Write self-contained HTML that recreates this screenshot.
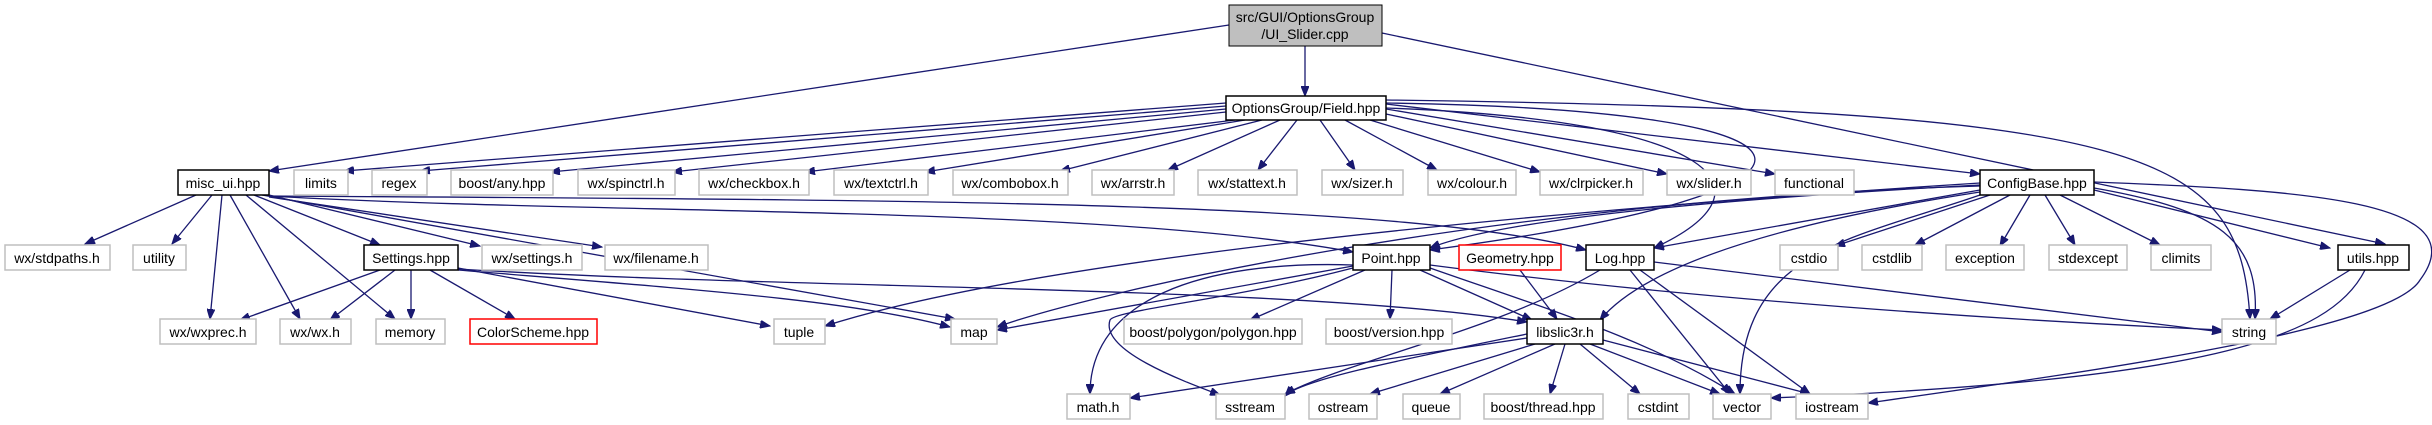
<!DOCTYPE html>
<html><head><meta charset="utf-8"><style>
html,body{margin:0;padding:0;background:#fff;width:2432px;height:425px;overflow:hidden}
svg text{font-family:"Liberation Sans",Arial,sans-serif;font-size:14px;text-anchor:middle;fill:#000}
.g{fill:#fff;stroke:#bfbfbf;stroke-width:1.5}
.b{fill:#fff;stroke:#000;stroke-width:1.5}
.r{fill:#fff;stroke:#ff0000;stroke-width:1.5}
path{fill:none;stroke:#191970;stroke-width:1.3;marker-end:url(#a)}
</style></head><body>
<svg width="2432" height="425" viewBox="0 0 2432 425" xmlns="http://www.w3.org/2000/svg">
<defs><marker id="a" markerUnits="userSpaceOnUse" markerWidth="11" markerHeight="8" refX="10" refY="4" orient="auto"><polygon points="0,0 10,4 0,8" fill="#191970" stroke="#191970"/></marker></defs>
<g>
<path d="M1305,46 L1305,96"/>
<path d="M1229,25 L269,171"/>
<path d="M1382,33 L2385,244"/>
<path d="M1226,103 L344,171"/>
<path d="M1226,106 L420,171"/>
<path d="M1226,109 L550,172"/>
<path d="M1226,112 L672,172"/>
<path d="M1235,120 L805,172"/>
<path d="M1245,120 L925,172"/>
<path d="M1262,120 L1060,171"/>
<path d="M1280,120 L1168,170"/>
<path d="M1297,120 L1258,170"/>
<path d="M1320,120 L1355,170"/>
<path d="M1345,120 L1437,170"/>
<path d="M1370,120 L1540,172"/>
<path d="M1386,114 L1667,174"/>
<path d="M1386,109 L1775,174"/>
<path d="M1386,104 L1980,174"/>
<path d="M1386,100 C2150,110 2240,150 2250,319"/>
<path d="M1386,103 C1860,110 1880,190 1430,250"/>
<path d="M1386,108 C1720,120 1780,190 1654,248"/>
<path d="M196,195 L85,244"/>
<path d="M212,195 L172,244"/>
<path d="M222,195 L210,319"/>
<path d="M230,195 L300,319"/>
<path d="M246,195 L395,319"/>
<path d="M254,195 L380,245"/>
<path d="M269,195 L480,246"/>
<path d="M269,197 L602,247"/>
<path d="M262,195 L955,319"/>
<path d="M269,196 C600,215 1100,205 1353,252"/>
<path d="M269,196 C900,200 1400,200 1586,250"/>
<path d="M380,270 L240,320"/>
<path d="M395,270 L330,320"/>
<path d="M411,270 L411,319"/>
<path d="M430,270 L515,319"/>
<path d="M458,268 L770,326"/>
<path d="M458,270 C700,290 850,300 950,327"/>
<path d="M458,269 C800,290 1300,285 1527,322"/>
<path d="M1990,195 L1835,246"/>
<path d="M2010,195 L1915,245"/>
<path d="M2030,195 L2000,246"/>
<path d="M2045,195 L2075,245"/>
<path d="M2060,195 L2160,245"/>
<path d="M2094,190 L2330,248"/>
<path d="M2094,188 C2220,210 2260,240 2255,319"/>
<path d="M2094,182 C2300,190 2480,200 2420,280 C2390,330 2100,370 1868,403"/>
<path d="M1980,195 C1850,240 1740,250 1740,394"/>
<path d="M1980,185 C1700,200 1500,220 1430,248"/>
<path d="M1980,190 L1654,248"/>
<path d="M1980,192 C1800,220 1650,260 1600,320"/>
<path d="M1980,183 C1400,220 1000,270 825,326"/>
<path d="M1980,186 C1500,200 1100,290 997,327"/>
<path d="M1353,265 C1200,260 1090,300 1090,394"/>
<path d="M1353,268 C1230,300 1115,310 1110,320 C1100,350 1180,380 1220,395"/>
<path d="M1353,266 L997,330"/>
<path d="M1365,270 L1250,320"/>
<path d="M1392,270 L1390,319"/>
<path d="M1420,270 L1532,320"/>
<path d="M1430,268 C1550,310 1650,340 1735,394"/>
<path d="M1430,265 C1700,300 2000,320 2222,330"/>
<path d="M1520,270 L1557,319"/>
<path d="M1654,262 L2222,332"/>
<path d="M1630,270 L1730,394"/>
<path d="M1640,270 L1810,394"/>
<path d="M1600,270 C1500,330 1350,360 1285,394"/>
<path d="M1527,338 L1130,398"/>
<path d="M1527,334 C1400,360 1300,380 1285,396"/>
<path d="M1535,344 L1370,394"/>
<path d="M1555,344 L1440,394"/>
<path d="M1565,344 L1550,394"/>
<path d="M1580,344 L1640,394"/>
<path d="M1590,344 L1720,394"/>
<path d="M1603,340 L1810,394"/>
<path d="M2350,270 L2270,319"/>
<path d="M2365,270 C2330,340 2200,380 1771,398"/>
</g>
<rect x="1229" y="5" width="153" height="41" fill="#bfbfbf" stroke="#000" stroke-width="1"/>
<text x="1305" y="22">src/GUI/OptionsGroup</text><text x="1305" y="39">/UI_Slider.cpp</text>
<rect class="b" x="1226" y="96" width="160" height="24"/><text x="1306" y="113">OptionsGroup/Field.hpp</text>
<g>
<rect class="b" x="178" y="170" width="91" height="25"/><text x="223" y="188">misc_ui.hpp</text>
<rect class="g" x="294" y="170" width="54" height="25"/><text x="321" y="188">limits</text>
<rect class="g" x="372" y="170" width="55" height="25"/><text x="399" y="188">regex</text>
<rect class="g" x="451" y="170" width="102" height="25"/><text x="502" y="188">boost/any.hpp</text>
<rect class="g" x="578" y="170" width="97" height="25"/><text x="626" y="188">wx/spinctrl.h</text>
<rect class="g" x="699" y="170" width="110" height="25"/><text x="754" y="188">wx/checkbox.h</text>
<rect class="g" x="834" y="170" width="94" height="25"/><text x="881" y="188">wx/textctrl.h</text>
<rect class="g" x="953" y="170" width="115" height="25"/><text x="1010" y="188">wx/combobox.h</text>
<rect class="g" x="1092" y="170" width="82" height="25"/><text x="1133" y="188">wx/arrstr.h</text>
<rect class="g" x="1198" y="170" width="99" height="25"/><text x="1247" y="188">wx/stattext.h</text>
<rect class="g" x="1322" y="170" width="81" height="25"/><text x="1362" y="188">wx/sizer.h</text>
<rect class="g" x="1428" y="170" width="88" height="25"/><text x="1472" y="188">wx/colour.h</text>
<rect class="g" x="1540" y="170" width="103" height="25"/><text x="1591" y="188">wx/clrpicker.h</text>
<rect class="g" x="1667" y="170" width="84" height="25"/><text x="1709" y="188">wx/slider.h</text>
<rect class="g" x="1775" y="170" width="79" height="25"/><text x="1814" y="188">functional</text>
<rect class="b" x="1980" y="170" width="114" height="25"/><text x="2037" y="188">ConfigBase.hpp</text>
</g>
<g>
<rect class="g" x="5" y="245" width="105" height="25"/><text x="57" y="263">wx/stdpaths.h</text>
<rect class="g" x="133" y="245" width="53" height="25"/><text x="159" y="263">utility</text>
<rect class="b" x="364" y="245" width="94" height="25"/><text x="411" y="263">Settings.hpp</text>
<rect class="g" x="482" y="245" width="100" height="25"/><text x="532" y="263">wx/settings.h</text>
<rect class="g" x="605" y="245" width="103" height="25"/><text x="656" y="263">wx/filename.h</text>
<rect class="b" x="1353" y="245" width="77" height="25"/><text x="1391" y="263">Point.hpp</text>
<rect class="r" x="1459" y="245" width="102" height="25"/><text x="1510" y="263">Geometry.hpp</text>
<rect class="b" x="1586" y="245" width="68" height="25"/><text x="1620" y="263">Log.hpp</text>
<rect class="g" x="1780" y="245" width="58" height="25"/><text x="1809" y="263">cstdio</text>
<rect class="g" x="1862" y="245" width="60" height="25"/><text x="1892" y="263">cstdlib</text>
<rect class="g" x="1946" y="245" width="78" height="25"/><text x="1985" y="263">exception</text>
<rect class="g" x="2049" y="245" width="78" height="25"/><text x="2088" y="263">stdexcept</text>
<rect class="g" x="2151" y="245" width="60" height="25"/><text x="2181" y="263">climits</text>
<rect class="b" x="2338" y="245" width="71" height="25"/><text x="2373" y="263">utils.hpp</text>
</g>
<g>
<rect class="g" x="160" y="319" width="96" height="25"/><text x="208" y="337">wx/wxprec.h</text>
<rect class="g" x="280" y="319" width="71" height="25"/><text x="315" y="337">wx/wx.h</text>
<rect class="g" x="376" y="319" width="69" height="25"/><text x="410" y="337">memory</text>
<rect class="r" x="470" y="319" width="127" height="25"/><text x="533" y="337">ColorScheme.hpp</text>
<rect class="g" x="774" y="319" width="51" height="25"/><text x="799" y="337">tuple</text>
<rect class="g" x="951" y="319" width="46" height="25"/><text x="974" y="337">map</text>
<rect class="g" x="1124" y="319" width="178" height="25"/><text x="1213" y="337">boost/polygon/polygon.hpp</text>
<rect class="g" x="1326" y="319" width="126" height="25"/><text x="1389" y="337">boost/version.hpp</text>
<rect class="b" x="1527" y="319" width="76" height="25"/><text x="1565" y="337">libslic3r.h</text>
<rect class="g" x="2222" y="319" width="54" height="25"/><text x="2249" y="337">string</text>
</g>
<g>
<rect class="g" x="1067" y="394" width="63" height="25"/><text x="1098" y="412">math.h</text>
<rect class="g" x="1216" y="394" width="69" height="25"/><text x="1250" y="412">sstream</text>
<rect class="g" x="1309" y="394" width="68" height="25"/><text x="1343" y="412">ostream</text>
<rect class="g" x="1403" y="394" width="57" height="25"/><text x="1431" y="412">queue</text>
<rect class="g" x="1484" y="394" width="119" height="25"/><text x="1543" y="412">boost/thread.hpp</text>
<rect class="g" x="1628" y="394" width="61" height="25"/><text x="1658" y="412">cstdint</text>
<rect class="g" x="1713" y="394" width="58" height="25"/><text x="1742" y="412">vector</text>
<rect class="g" x="1796" y="394" width="72" height="25"/><text x="1832" y="412">iostream</text>
</g>
</svg>
</body></html>
